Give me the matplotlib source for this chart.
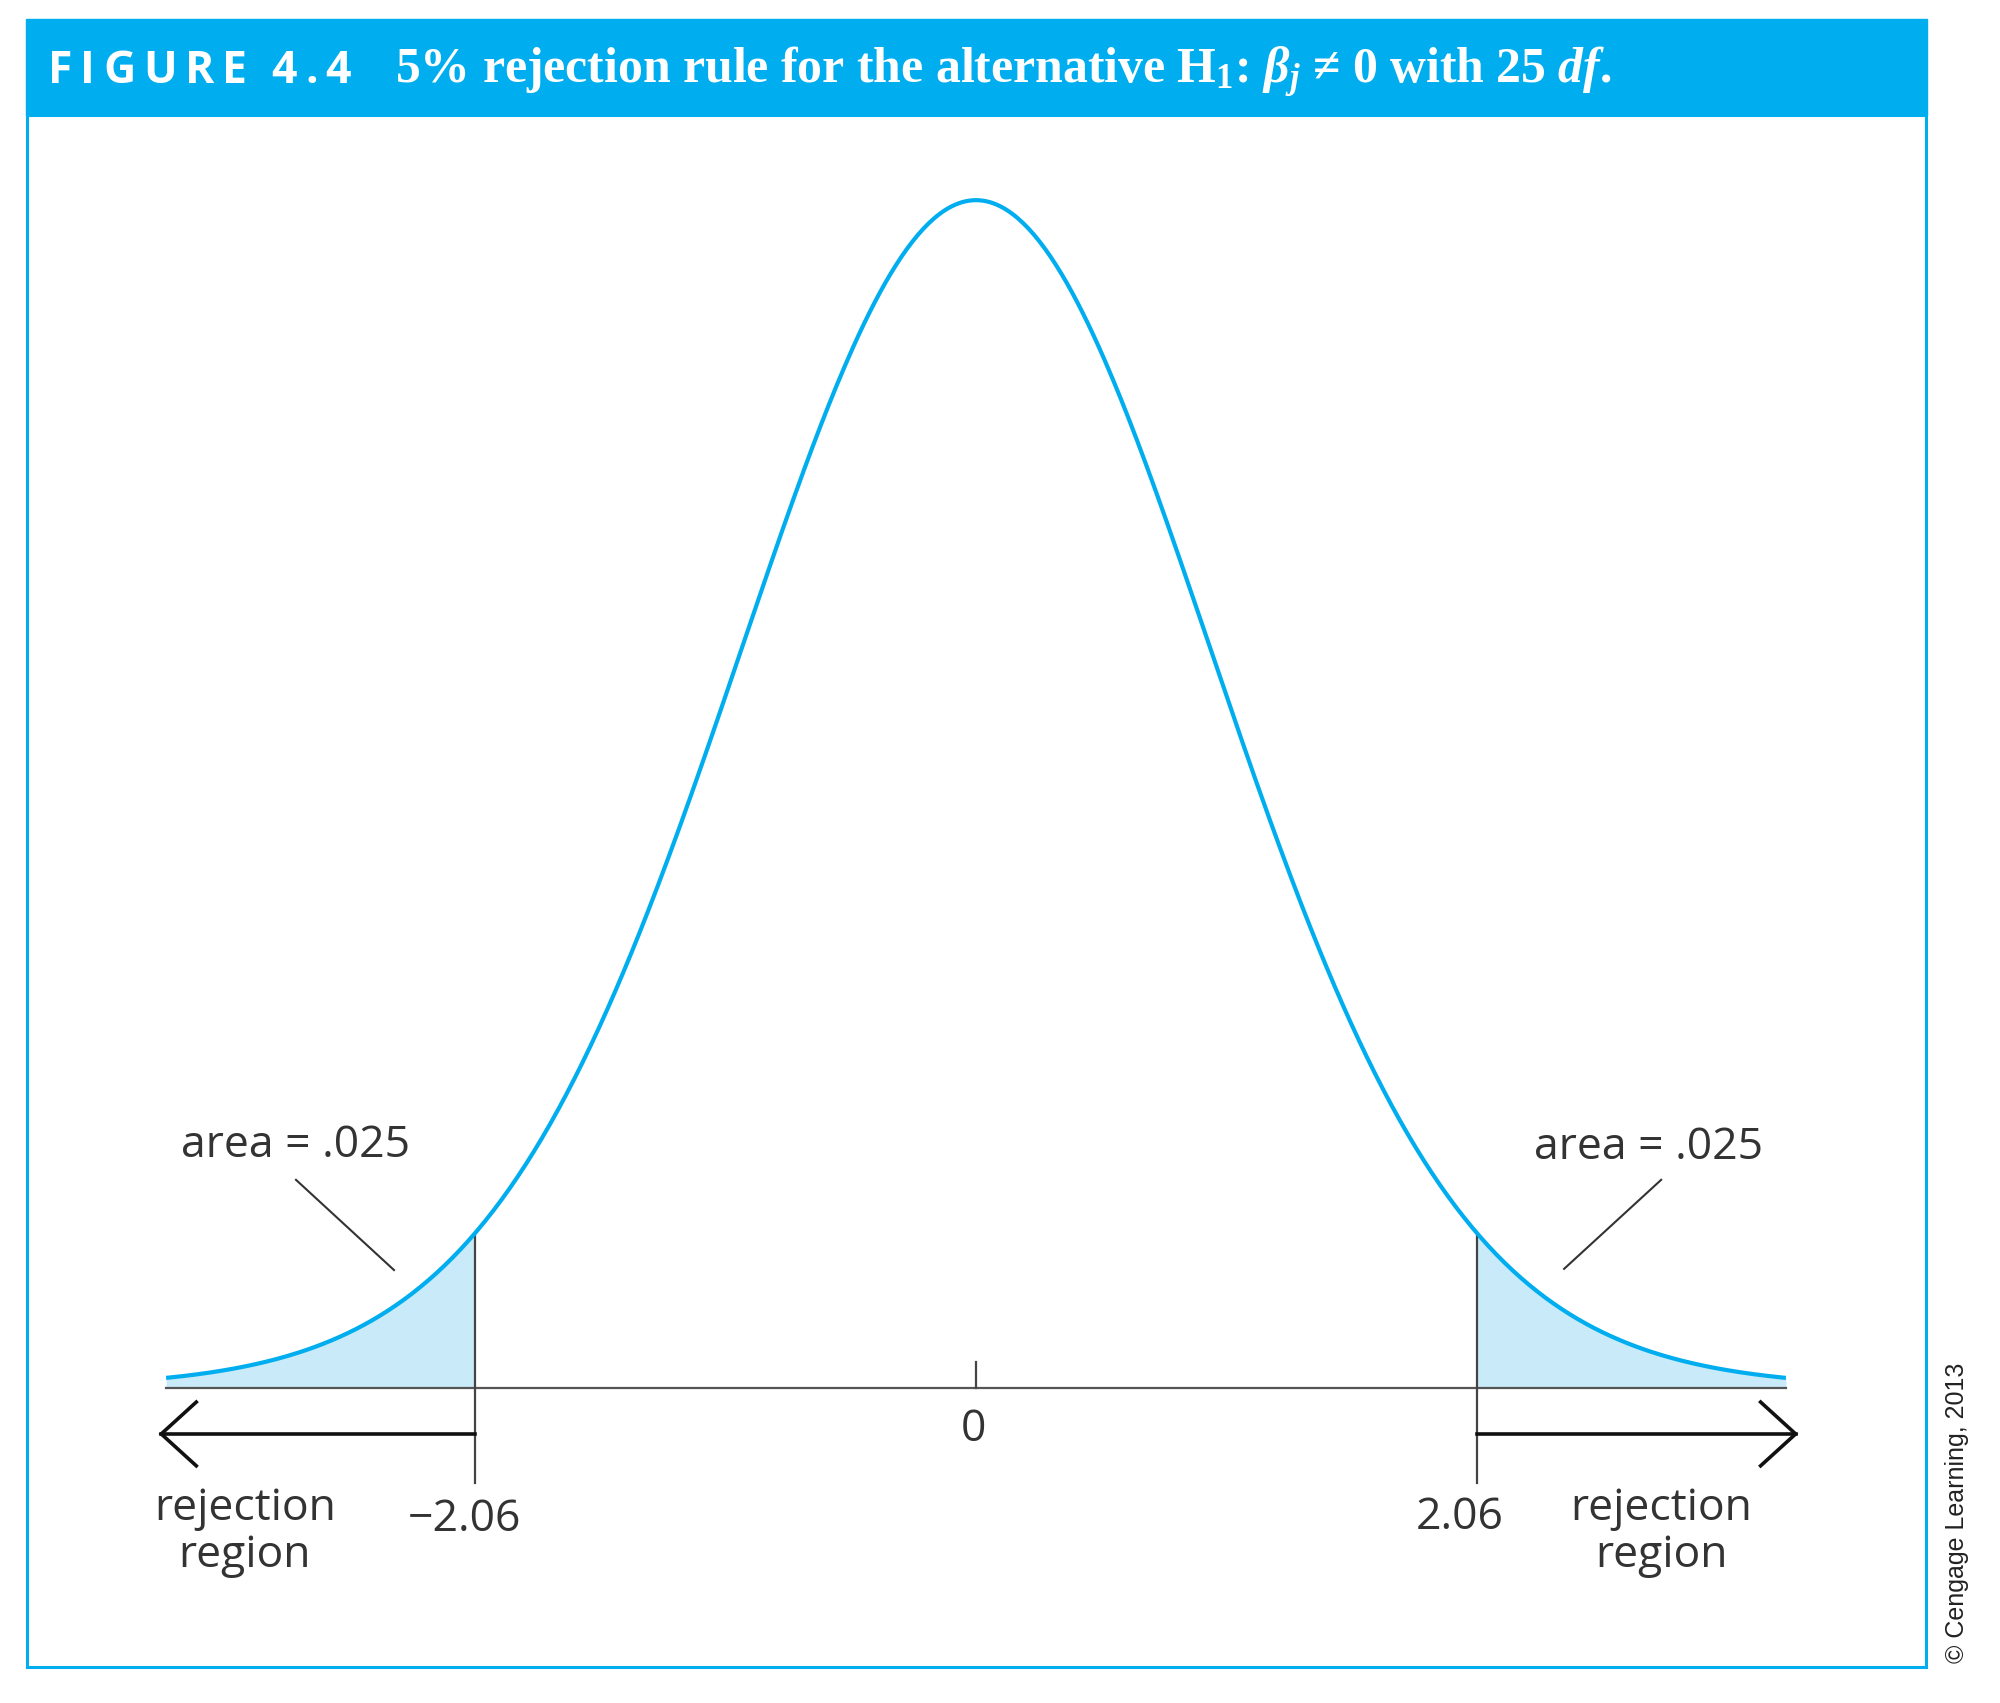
import math
import numpy as np
import matplotlib
matplotlib.use("Agg")
import matplotlib.pyplot as plt
from matplotlib.patches import Rectangle

# chart values
dof = 25
t_crit = 2.06
x_lo, x_hi = -3.33, 3.33
tick_values = [-t_crit, 0.0, t_crit]
tick_labels = ["\u22122.06", "0", "2.06"]
area_label = "area = .025"
region_label = "rejection\nregion"
fig_tag = "FIGURE 4.4"
title = r"5% rejection rule for the alternative H$_1$: $\beta_j$ " + "\u2260" + r" 0 with 25 $df$."
credit = "\u00a9 Cengage Learning, 2013"

BLUE = "#00AEEF"
FILL = "#C8EAF9"
INK = "#333333"

plt.rcParams["mathtext.fontset"] = "custom"
plt.rcParams["mathtext.rm"] = "Liberation Serif:bold"
plt.rcParams["mathtext.it"] = "Liberation Serif:bold:italic"
plt.rcParams["mathtext.bf"] = "Liberation Serif:bold"


def t_pdf(x, k):
    c = math.gamma((k + 1) / 2) / (math.sqrt(k * math.pi) * math.gamma(k / 2))
    return c * (1 + x ** 2 / k) ** (-(k + 1) / 2)


W, H = 2000, 1703
fig = plt.figure(figsize=(20, 17.03), dpi=100)

# plot box in pixels: left, top, right, bottom
L, T, R, B = 27, 115, 1926, 1667
ax = fig.add_axes([L / W, 1 - B / H, (R - L) / W, (B - T) / H])
ax.set_xlim(-3.902, 3.906)
ax.set_ylim(-0.0928, 0.4233)
ax.set_xticks([])
ax.set_yticks([])
for s in ax.spines.values():
    s.set_color(BLUE)
    s.set_linewidth(2.2)

# title bar
fig.add_artist(Rectangle((26 / W, 1 - 115 / H), (1927 - 26) / W, 96 / H,
                         transform=fig.transFigure, color=BLUE, zorder=0))

# density curve and tails
xs = np.linspace(x_lo, x_hi, 600)
ys = t_pdf(xs, dof)
ax.plot(xs, ys, color=BLUE, lw=3.0, zorder=3, solid_capstyle="butt")
lt = np.linspace(x_lo, -t_crit, 200)
rt = np.linspace(t_crit, x_hi, 200)
ax.fill_between(lt, 0, t_pdf(lt, dof), color=FILL, lw=0, zorder=1)
ax.fill_between(rt, 0, t_pdf(rt, dof), color=FILL, lw=0, zorder=1)

# axis line and zero tick
ax.plot([x_lo, x_hi], [0, 0], color="#555555", lw=1.6, zorder=2)
ax.plot([0, 0], [0, 0.0086], color="#444444", lw=1.6, zorder=2)

# critical value lines
for v in (-t_crit, t_crit):
    ax.plot([v, v], [t_pdf(v, dof), -0.0316], color="#444444", lw=1.6, zorder=2)

# rejection arrows
ya = -0.0153
for v, tip in ((-t_crit, -3.35), (t_crit, 3.37)):
    ax.plot([v, tip], [ya, ya], color="#111111", lw=2.6, zorder=2)
    d = 0.144 if tip < 0 else -0.144
    ax.plot([tip + d, tip, tip + d], [ya + 0.0106, ya, ya - 0.0106],
            color="#111111", lw=2.6, zorder=2, solid_joinstyle="miter")

lab = dict(family=["Open Sans", "DejaVu Sans"], color=INK, fontsize=32,
           ha="center", va="center")
ax.text(-2.105, -0.0439, tick_labels[0], **lab)
ax.text(-0.01, -0.0140, tick_labels[1], **lab)
ax.text(1.99, -0.0432, tick_labels[2], **lab)
ax.text(-3.006, -0.0480, region_label, linespacing=1.1, **lab)
ax.text(2.817, -0.0480, region_label, linespacing=1.1, **lab)
ax.text(-2.80, 0.0805, area_label, **lab)
ax.text(2.767, 0.0798, area_label, **lab)

# leader lines
ax.plot([-2.796, -2.393], [0.0692, 0.0392], color="#333333", lw=1.5)
ax.plot([2.817, 2.418], [0.0692, 0.0396], color="#333333", lw=1.5)

# title text (letter-spaced tag)
r = fig.canvas.get_renderer()
x = 48
for ch in fig_tag:
    if ch == " ":
        x += 16
        continue
    t = fig.text(x / W, 1 - 83 / H, ch, color="white", fontsize=32,
                 fontweight="bold", family=["Open Sans", "DejaVu Sans"],
                 va="baseline", ha="left")
    x += t.get_window_extent(r).width + 8

tt = fig.text(395 / W, 1 - 83 / H, title, color="white", fontsize=30,
              fontweight="bold", family=["Liberation Serif", "DejaVu Serif"],
              va="baseline", ha="left")
w = tt.get_window_extent(r).width
tt.set_fontsize(30 * 1215 / w)

cr = fig.text(1957 / W, 1 - 1513 / H, credit, rotation=90, color="#222222",
              fontsize=20, family=["Liberation Sans Narrow", "Liberation Sans"],
              ha="center", va="center")
h = cr.get_window_extent(r).height
cr.set_fontsize(20 * 300 / h)

fig.savefig("out.png", dpi=100)
